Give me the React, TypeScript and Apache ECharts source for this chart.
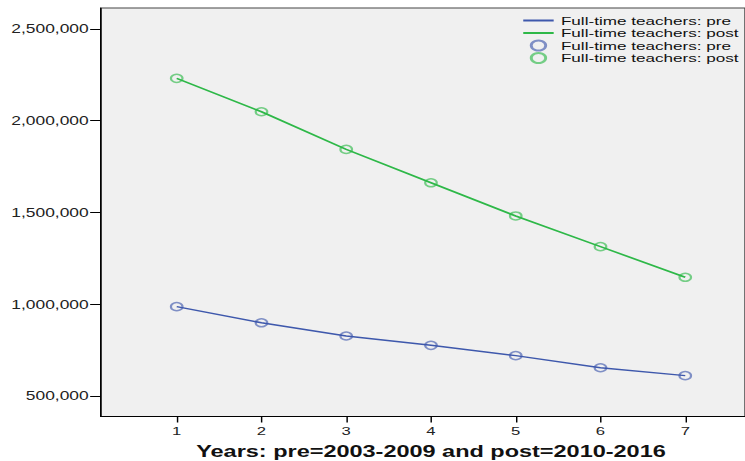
import React, { useEffect, useRef } from "react";
import * as echarts from "echarts";

const years = [1, 2, 3, 4, 5, 6, 7];
const preValues = [987000, 899000, 827000, 776000, 720000, 654000, 611000];
const postValues = [2231000, 2049000, 1844000, 1662000, 1481000, 1314000, 1147000];
const yTicks = [500000, 1000000, 1500000, 2000000, 2500000];
const xTicks = [1, 2, 3, 4, 5, 6, 7];
const preName = "Full-time teachers: pre";
const postName = "Full-time teachers: post";
const xAxisTitle = "Years: pre=2003-2009 and post=2010-2016";

const W = 514;
const H = 461;
const STRETCH = 745 / W;

const BLUE = "#3E58AC";
const GREEN = "#2EB848";
const FONT = "'Liberation Sans', Arial, sans-serif";

export default function App() {
  const ref = useRef<HTMLDivElement>(null);
  useEffect(() => {
    const chart = echarts.init(ref.current!, null, { renderer: "svg" });
    const pairs = (vals: number[]) => years.map((x, i) => [x, vals[i]]);
    chart.setOption({
      animation: false,
      backgroundColor: "#ffffff",
      textStyle: { fontFamily: FONT },
      grid: {
        left: 69.7,
        right: 0,
        top: 8,
        bottom: 44.5,
        show: true,
        backgroundColor: "#F0F0F0",
        borderColor: "#444",
        borderWidth: 1,
        outerBoundsMode: "none",
      },
      legend: {
        orient: "vertical",
        left: 360,
        top: 14.5,
        padding: 0,
        itemGap: 0.5,
        itemWidth: 21,
        itemHeight: 10,
        textStyle: { fontSize: 11.8, color: "#111", fontFamily: FONT },
        formatter: (name: string) => name.replace(/^(line|marker)\|/, ""),
        data: [
          { name: "line|" + preName, itemStyle: { opacity: 0 } },
          { name: "line|" + postName, itemStyle: { opacity: 0 } },
          { name: "marker|" + preName },
          { name: "marker|" + postName },
        ],
      },
      xAxis: {
        type: "value",
        min: 0.107,
        max: 7.705,
        name: xAxisTitle,
        nameLocation: "middle",
        nameGap: 27,
        nameTextStyle: { fontSize: 16.2, fontWeight: "bold", color: "#111", fontFamily: FONT, padding: [0, 0, 0, 11] },
        axisLine: { show: true, lineStyle: { color: "#000", width: 1 } },
        axisTick: { show: true, length: 6, lineStyle: { color: "#000" }, customValues: xTicks },
        axisLabel: { color: "#222", fontSize: 11.5, margin: 8, customValues: xTicks, fontFamily: FONT },
        splitLine: { show: false },
      },
      yAxis: {
        type: "value",
        min: 388283,
        max: 2614441,
        axisLine: { show: true, lineStyle: { color: "#000", width: 1 } },
        axisTick: { show: true, length: 7.5, lineStyle: { color: "#000" }, customValues: yTicks },
        axisLabel: {
          color: "#222",
          fontSize: 12,
          margin: 8.5,
          customValues: yTicks,
          fontFamily: FONT,
          formatter: (v: number) => Math.round(v).toLocaleString("en-US"),
        },
        splitLine: { show: false },
      },
      series: [
        {
          name: "line|" + preName,
          type: "line",
          data: pairs(preValues),
          symbol: "none",
          lineStyle: { color: BLUE, width: 1.5 },
          itemStyle: { color: BLUE },
        },
        {
          name: "line|" + postName,
          type: "line",
          data: pairs(postValues),
          symbol: "none",
          lineStyle: { color: GREEN, width: 1.6 },
          itemStyle: { color: GREEN },
        },
        {
          name: "marker|" + preName,
          type: "scatter",
          data: pairs(preValues),
          symbol: "circle",
          symbolSize: 8,
          itemStyle: { color: "rgba(0,0,0,0)", borderColor: "rgba(62,88,172,0.8)", borderWidth: 1.5 },
        },
        {
          name: "marker|" + postName,
          type: "scatter",
          data: pairs(postValues),
          symbol: "circle",
          symbolSize: 8,
          itemStyle: { color: "rgba(0,0,0,0)", borderColor: "rgba(46,184,72,0.8)", borderWidth: 1.5 },
        },
      ],
    });
    return () => chart.dispose();
  }, []);
  return (
    <div
      ref={ref}
      style={{
        position: "absolute",
        left: 0,
        top: 0,
        width: W,
        height: H,
        transform: `scaleX(${STRETCH})`,
        transformOrigin: "0 0",
      }}
    />
  );
}
